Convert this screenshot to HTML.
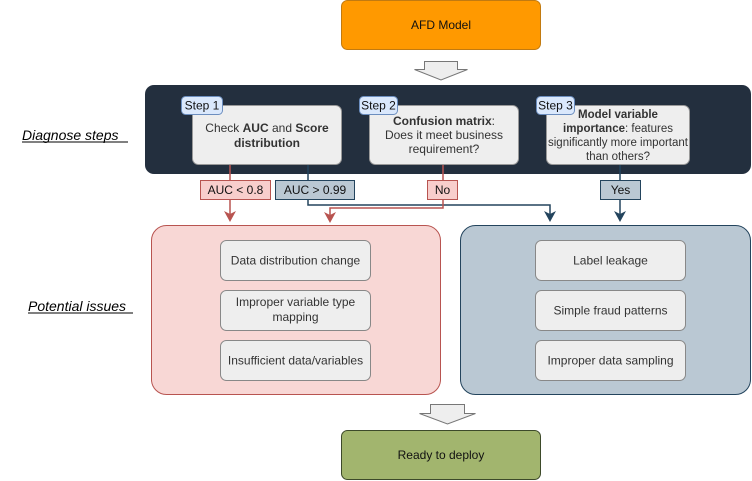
<!DOCTYPE html>
<html><head><meta charset="utf-8"><style>
html,body{margin:0;padding:0;background:#fff;}
svg{display:block;font-family:"Liberation Sans",Arial,sans-serif;}
</style></head><body>
<svg width="752" height="481" viewBox="0 0 752 481" xmlns="http://www.w3.org/2000/svg">
<rect x="341.5" y="0.5" width="199" height="49" rx="6" fill="#FF9900" stroke="#C27A10"/>
<text x="441" y="29" font-size="12" text-anchor="middle" fill="#111">AFD Model</text>
<polygon points="424.5,61.5 457.5,61.5 457.5,69.5 467.5,69.5 441,80 414.5,69.5 424.5,69.5" fill="#EEEEEE" stroke="#777"/>
<rect x="145" y="85" width="606" height="89" rx="9" fill="#232F3E"/>
<rect x="192.5" y="105.5" width="149" height="59" rx="6" fill="#EEEEEE" stroke="#999"/>
<text font-size="12" text-anchor="middle" fill="#333"><tspan x="267" y="132">Check <tspan font-weight="bold">AUC</tspan> and <tspan font-weight="bold">Score</tspan></tspan><tspan x="267" y="147" font-weight="bold">distribution</tspan></text>
<rect x="369.5" y="105.5" width="149" height="59" rx="6" fill="#EEEEEE" stroke="#999"/>
<text font-size="12" text-anchor="middle" fill="#333"><tspan x="444" y="125"><tspan font-weight="bold">Confusion matrix</tspan>:</tspan><tspan x="444" y="139">Does it meet business</tspan><tspan x="444" y="153">requirement?</tspan></text>
<rect x="546.5" y="105.5" width="143" height="59" rx="6" fill="#EEEEEE" stroke="#999"/>
<text font-size="11.5" text-anchor="middle" fill="#333"><tspan x="618" y="118" font-weight="bold">Model variable</tspan><tspan x="618" y="132"><tspan font-weight="bold">importance</tspan>: features</tspan><tspan x="618" y="146">significantly more important</tspan><tspan x="618" y="160">than others?</tspan></text>
<rect x="181.5" y="96.5" width="41" height="18" rx="4" fill="#DAE8FC" stroke="#6C8EBF"/>
<text x="202" y="109.5" font-size="12" text-anchor="middle" fill="#111">Step 1</text>
<rect x="359.5" y="96.5" width="38" height="18" rx="4" fill="#DAE8FC" stroke="#6C8EBF"/>
<text x="378.5" y="109.5" font-size="12" text-anchor="middle" fill="#111">Step 2</text>
<rect x="536.5" y="96.5" width="38" height="18" rx="4" fill="#DAE8FC" stroke="#6C8EBF"/>
<text x="555.5" y="109.5" font-size="12" text-anchor="middle" fill="#111">Step 3</text>
<g fill="none" stroke-width="1.5">
<path d="M230 165 V218" stroke="#B85450"/>
<path d="M308 165 V205 H550 V218" stroke="#23445D"/>
<path d="M443 165 V208 H330 V219" stroke="#B85450"/>
<path d="M620 165 V218" stroke="#23445D"/>
</g>
<polygon points="224,211 230,214 236,211 230,222" fill="#B85450"/>
<polygon points="324,212 330,215 336,212 330,223" fill="#B85450"/>
<polygon points="544,211 550,214 556,211 550,222" fill="#23445D"/>
<polygon points="614,211 620,214 626,211 620,222" fill="#23445D"/>
<rect x="200.5" y="180.5" width="70" height="19" fill="#F8CECC" stroke="#B85450"/>
<text x="235.5" y="194" font-size="12" text-anchor="middle" fill="#111">AUC &lt; 0.8</text>
<rect x="275.5" y="180.5" width="79" height="19" fill="#BAC8D3" stroke="#23445D"/>
<text x="315" y="194" font-size="12" text-anchor="middle" fill="#111">AUC &gt; 0.99</text>
<rect x="427.5" y="180.5" width="30" height="19" fill="#F8CECC" stroke="#B85450"/>
<text x="442.5" y="194" font-size="12" text-anchor="middle" fill="#111">No</text>
<rect x="600.5" y="180.5" width="40" height="19" fill="#BAC8D3" stroke="#23445D"/>
<text x="620.5" y="194" font-size="12" text-anchor="middle" fill="#111">Yes</text>
<rect x="151.5" y="225.5" width="289" height="169" rx="15" fill="#F8D7D5" stroke="#B85450"/>
<rect x="460.5" y="225.5" width="290" height="169" rx="15" fill="#BAC8D3" stroke="#23445D"/>
<g fill="#EEEEEE" stroke="#888">
<rect x="220.5" y="240.5" width="150" height="40" rx="6"/>
<rect x="220.5" y="290.5" width="150" height="40" rx="6"/>
<rect x="220.5" y="340.5" width="150" height="40" rx="6"/>
<rect x="535.5" y="240.5" width="150" height="40" rx="6"/>
<rect x="535.5" y="290.5" width="150" height="40" rx="6"/>
<rect x="535.5" y="340.5" width="150" height="40" rx="6"/>
</g>
<g font-size="12" text-anchor="middle" fill="#333">
<text x="295.5" y="264.5">Data distribution change</text>
<text x="295.5" y="306">Improper variable type</text>
<text x="295.5" y="321">mapping</text>
<text x="295.5" y="364.5">Insufficient data/variables</text>
<text x="610.5" y="264.5">Label leakage</text>
<text x="610.5" y="314.5">Simple fraud patterns</text>
<text x="610.5" y="364.5">Improper data sampling</text>
</g>
<polygon points="430.5,404.5 464.5,404.5 464.5,413.5 475.5,413.5 447.5,424 419.5,413.5 430.5,413.5" fill="#EEEEEE" stroke="#777"/>
<rect x="341.5" y="430.5" width="199" height="49" rx="6" fill="#A2B56E" stroke="#3D4A2A"/>
<text x="441" y="459" font-size="12" text-anchor="middle" fill="#111">Ready to deploy</text>
<text x="22" y="140" font-size="14" font-style="italic" fill="#000">Diagnose steps</text>
<line x1="22" y1="142" x2="128" y2="142" stroke="#000" stroke-width="1"/>
<text x="28" y="311" font-size="14" font-style="italic" fill="#000">Potential issues</text>
<line x1="28" y1="313" x2="133" y2="313" stroke="#000" stroke-width="1"/>
</svg>
</body></html>
